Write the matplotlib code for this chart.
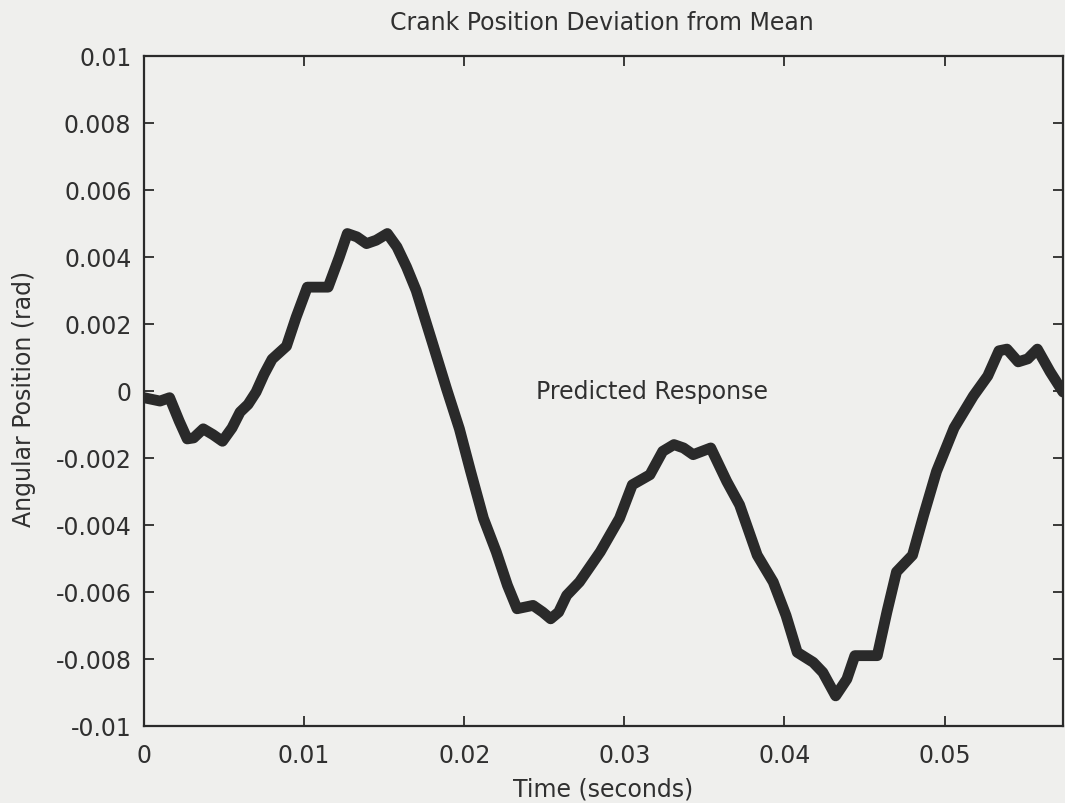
import matplotlib
matplotlib.use("Agg")
import matplotlib.pyplot as plt

# Data
time_s = [0.0000, 0.0010, 0.0016, 0.0022, 0.0027, 0.0031, 0.0037, 0.0043, 0.0049,
          0.0055, 0.0060, 0.0065, 0.0070, 0.0075, 0.0080, 0.0089, 0.0095, 0.0102,
          0.0115, 0.0122, 0.0127, 0.0133, 0.0139, 0.0145, 0.0152, 0.0158, 0.0164,
          0.0170, 0.0180, 0.0189, 0.0197, 0.0204, 0.0212, 0.0220, 0.0227, 0.0233,
          0.0243, 0.0249, 0.0254, 0.0259, 0.0264, 0.0272, 0.0285, 0.0297, 0.0305,
          0.0316, 0.0324, 0.0331, 0.0337, 0.0343, 0.0354, 0.0364, 0.0372, 0.0383,
          0.0393, 0.0401, 0.0408, 0.0418, 0.0424, 0.0432, 0.0439, 0.0444, 0.0458,
          0.0464, 0.0470, 0.0480, 0.0487, 0.0495, 0.0506, 0.0518, 0.0527, 0.0534,
          0.0539, 0.0546, 0.0552, 0.0558, 0.0566, 0.0574]
angle_rad = [-0.0002, -0.0003, -0.0002, -0.0009, -0.00143, -0.0014, -0.00113, -0.0013, -0.0015,
             -0.0011, -0.00063, -0.0004, -0.00003, 0.0005, 0.00095, 0.00134, 0.0022, 0.0031,
             0.0031, 0.0040, 0.0047, 0.0046, 0.0044, 0.0045, 0.0047, 0.0043, 0.0037,
             0.0030, 0.00146, 0.00006, -0.00113, -0.0024, -0.0038, -0.0048, -0.0058, -0.0065,
             -0.0064, -0.0066, -0.0068, -0.0066, -0.0061, -0.0057, -0.0048, -0.0038, -0.0028,
             -0.0025, -0.0018, -0.0016, -0.0017, -0.0019, -0.0017, -0.0027, -0.0034, -0.0049,
             -0.0057, -0.0067, -0.0078, -0.0081, -0.0084, -0.0091, -0.0086, -0.0079, -0.0079,
             -0.0066, -0.0054, -0.0049, -0.0037, -0.0024, -0.0011, -0.00015, 0.00045, 0.0012,
             0.00125, 0.00087, 0.00096, 0.00125, 0.00057, -0.00003]

x_ticks = [0, 0.01, 0.02, 0.03, 0.04, 0.05]
x_tick_labels = ["0", "0.01", "0.02", "0.03", "0.04", "0.05"]
y_ticks = [-0.01, -0.008, -0.006, -0.004, -0.002, 0, 0.002, 0.004, 0.006, 0.008, 0.01]
y_tick_labels = ["-0.01", "-0.008", "-0.006", "-0.004", "-0.002", "0",
                 "0.002", "0.004", "0.006", "0.008", "0.01"]

title_text = "Crank Position Deviation from Mean"
x_label = "Time (seconds)"
y_label = "Angular Position (rad)"
annotation_text = "Predicted Response"

plt.rcParams["font.family"] = ["DejaVu Sans"]
plt.rcParams["axes.unicode_minus"] = False

bg = "#efefed"
ink = "#2a2a2a"
txt = "#303030"
fs = 17

fig = plt.figure(figsize=(10.65, 8.04), dpi=100, facecolor=bg)
ax = fig.add_axes([144 / 1065, 77 / 804, 919 / 1065, 670 / 804])
ax.set_facecolor(bg)

ax.plot(time_s, angle_rad, color=ink, lw=7.8, solid_capstyle="round",
        solid_joinstyle="round")

ax.set_xlim(0, 0.0574)
ax.set_ylim(-0.01, 0.01)
ax.set_xticks(x_ticks)
ax.set_xticklabels(x_tick_labels)
ax.set_yticks(y_ticks)
ax.set_yticklabels(y_tick_labels)
ax.tick_params(direction="in", length=7, width=1.3, colors=ink,
               top=True, right=True, labelsize=fs, labelcolor=txt)
ax.tick_params(axis="x", pad=12)
ax.tick_params(axis="y", pad=9)
for s in ax.spines.values():
    s.set_color(ink)
    s.set_linewidth(1.6)

ax.set_xlabel(x_label, fontsize=fs, color=txt, va="center")
ax.xaxis.set_label_coords(0.5, -0.094)
ax.set_ylabel(y_label, fontsize=fs, color=txt, va="center")
ax.yaxis.set_label_coords(-0.131, 0.49)
fig.text(0.5655, 1 - 23 / 804, title_text, ha="center", va="center",
         fontsize=fs, color=txt)
ax.text(0.0245, 0.0, annotation_text, ha="left", va="center",
        fontsize=fs, color=txt)

fig.savefig("out.png", dpi=100, facecolor=bg)
